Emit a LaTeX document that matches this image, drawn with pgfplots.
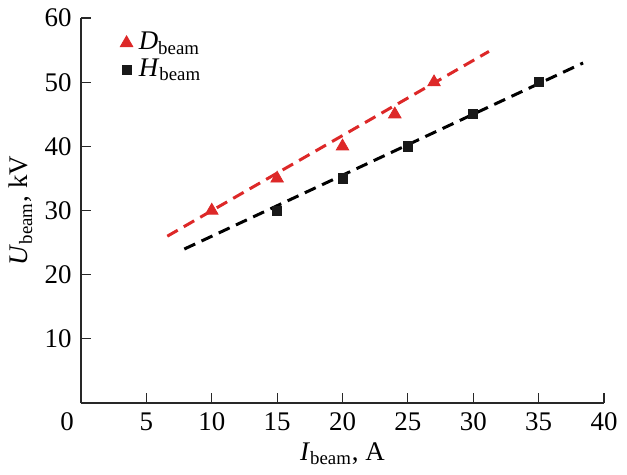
\documentclass[border=0pt]{standalone}
\usepackage{fontspec}
\setmainfont{Liberation Serif}
\usepackage{pgfplots}
\pgfplotsset{compat=1.18}
\definecolor{dred}{RGB}{221,40,40}
\definecolor{axgray}{RGB}{40,40,40}
\begin{document}
\fontsize{13.5}{16}\selectfont
\begin{tikzpicture}
\begin{axis}[
    scale only axis,
    width=261.5bp, height=192.5bp,
    xmin=0, xmax=40, ymin=0, ymax=60,
    axis lines*=left,
    axis line style={axgray, line width=0.7bp},
    tick style={axgray, line width=0.6bp},
    tick align=inside,
    major tick length=5bp,
    xtick={5,10,...,40},
    extra x ticks={0},
    extra x tick style={xticklabel style={xshift=-7bp}},
    ytick={0,10,...,60},
    yticklabels={,10,20,30,40,50,60},
    /pgf/number format/assume math mode=true,
    ticklabel style={font=\fontsize{13.5}{16}\selectfont},
    xlabel={\textit{I}\textsubscript{beam}, A},
    ylabel={\textit{U}\textsubscript{beam}, kV},
    label style={font=\fontsize{13.5}{16}\selectfont},
    xlabel style={yshift=3bp},
    ylabel style={yshift=-3bp},
    legend style={at={(0.063,0.985)}, anchor=north west, draw=none, fill=none,
        font=\fontsize{13.5}{16}\selectfont, row sep=-1.5bp,
        nodes={inner xsep=3bp}},
    legend cell align=left,
    clip=false,
]
% fitted lines
\addplot[dred, dashed, dash pattern=on 6bp off 3.5bp, line width=1.5bp, forget plot]
    coordinates {(6.6,26.0)(31.2,54.8)};
\addplot[black, dashed, dash pattern=on 6bp off 3.5bp, line width=1.5bp, forget plot]
    coordinates {(7.9,24.0)(38.4,53.0)};
% measured points
\addplot[only marks, mark=triangle*, mark size=3.6bp, color=dred]
    coordinates {(10,30)(15,35)(20,40)(24,45)(27,50)};
\addlegendentry{\textit{D}\textsubscript{beam}}
\addplot[only marks, mark=square*, mark size=2.3bp, color=black!90]
    coordinates {(15,30)(20,35)(25,40)(30,45)(35,50)};
\addlegendentry{\textit{H}\textsubscript{beam}}
\end{axis}
\path ([shift={(-40.5bp,-32.5bp)}]current axis.south west)
    rectangle ([shift={(11.5bp,8bp)}]current axis.north east);
\end{tikzpicture}
\end{document}
